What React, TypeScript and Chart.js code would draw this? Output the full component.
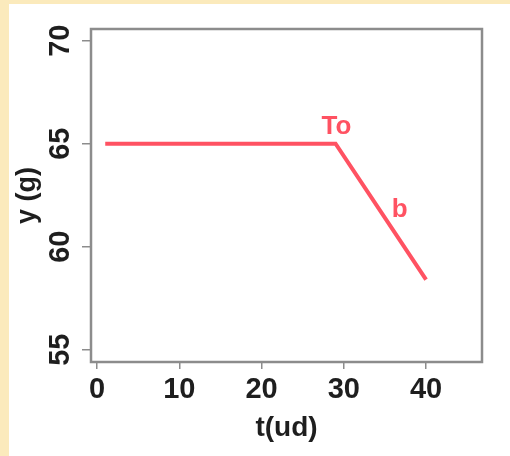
import React, { useEffect, useRef } from "react";
import { Chart, registerables } from "chart.js";

Chart.register(...registerables);

// Data
const tValues = [1, 29, 40];
const yValues = [65, 65, 58.4];
const xTickValues = [0, 10, 20, 30, 40];
const yTickValues = [55, 60, 65, 70];
const xTitle = "t(ud)";
const yTitle = "y (g)";
const noteLabels = ["To", "b"];
const noteX = [29.1, 36.8];
const noteY = [65.45, 61.42];

const FONT = "'Liberation Sans', Arial, Helvetica, sans-serif";
const RED = "#ff5262";
const GRAY = "#8c8c8c";
const TEXT = "#1e1e1e";

const drawPlugin = {
  id: "rstyle",
  afterDraw(chart: any) {
    const { ctx, chartArea, scales } = chart;
    const xs = scales.x;
    const ys = scales.y;
    ctx.save();
    // box
    ctx.strokeStyle = GRAY;
    ctx.lineWidth = 2.5;
    ctx.strokeRect(chartArea.left, chartArea.top, chartArea.right - chartArea.left, chartArea.bottom - chartArea.top);

    // x tick labels
    ctx.fillStyle = TEXT;
    ctx.font = `bold 29px ${FONT}`;
    ctx.textAlign = "center";
    ctx.textBaseline = "alphabetic";
    xTickValues.forEach((v) => {
      ctx.fillText(String(v), xs.getPixelForValue(v), chartArea.bottom + 36);
    });
    // y tick labels (rotated)
    yTickValues.forEach((v) => {
      ctx.save();
      ctx.translate(chartArea.left - 22, ys.getPixelForValue(v));
      ctx.rotate(-Math.PI / 2);
      ctx.fillText(String(v), 0, 0);
      ctx.restore();
    });
    // titles
    ctx.font = `bold 28px ${FONT}`;
    ctx.fillText(xTitle, (chartArea.left + chartArea.right) / 2, 435.5);
    ctx.save();
    ctx.translate(34.5, (chartArea.top + chartArea.bottom) / 2);
    ctx.rotate(-Math.PI / 2);
    ctx.font = `bold 27px ${FONT}`;
    ctx.fillText(yTitle, 0, 0);
    ctx.restore();

    // annotations
    ctx.fillStyle = RED;
    ctx.font = `bold 26px ${FONT}`;
    noteLabels.forEach((lab, i) => {
      ctx.fillText(lab, xs.getPixelForValue(noteX[i]), ys.getPixelForValue(noteY[i]));
    });
    ctx.restore();
  },
};

export default function App() {
  const ref = useRef<HTMLCanvasElement | null>(null);
  useEffect(() => {
    if (!ref.current) return;
    const chart = new Chart(ref.current, {
      type: "line",
      data: {
        datasets: [
          {
            data: tValues.map((t, i) => ({ x: t, y: yValues[i] })),
            borderColor: RED,
            borderWidth: 4,
            pointRadius: 0,
            fill: false,
            tension: 0,
          },
        ],
      },
      options: {
        animation: false,
        responsive: false,
        maintainAspectRatio: false,
        layout: { padding: { top: 29, right: 28, left: 0, bottom: 0 } },
        plugins: { legend: { display: false }, tooltip: { enabled: false } },
        events: [],
        scales: {
          x: {
            type: "linear",
            position: "bottom",
            min: -0.73,
            max: 46.8,
            afterBuildTicks: (s: any) => {
              s.ticks = xTickValues.map((v) => ({ value: v }));
            },
            afterFit: (s: any) => {
              s.height = 94;
            },
            ticks: { display: false },
            grid: {
              display: true,
              drawOnChartArea: false,
              drawTicks: true,
              tickLength: 7,
              color: GRAY,
              lineWidth: 1.5,
            },
            border: { display: false },
          },
          y: {
            type: "linear",
            position: "left",
            min: 54.4,
            max: 70.57,
            afterBuildTicks: (s: any) => {
              s.ticks = yTickValues.map((v) => ({ value: v }));
            },
            afterFit: (s: any) => {
              s.width = 91;
            },
            ticks: { display: false },
            grid: {
              display: true,
              drawOnChartArea: false,
              drawTicks: true,
              tickLength: 9,
              color: GRAY,
              lineWidth: 1.5,
            },
            border: { display: false },
          },
        },
      },
      plugins: [drawPlugin],
    } as any);
    return () => chart.destroy();
  }, []);

  return (
    <div style={{ position: "fixed", left: 0, top: 0, width: 510, height: 456, background: "#fbeabc", overflow: "hidden" }}>
      <div style={{ position: "absolute", left: 9, top: 4, right: 0, bottom: 0, background: "#ffffff" }} />
      <canvas ref={ref} width={510} height={456} style={{ position: "absolute", left: 0, top: 0, width: 510, height: 456 }} />
    </div>
  );
}
